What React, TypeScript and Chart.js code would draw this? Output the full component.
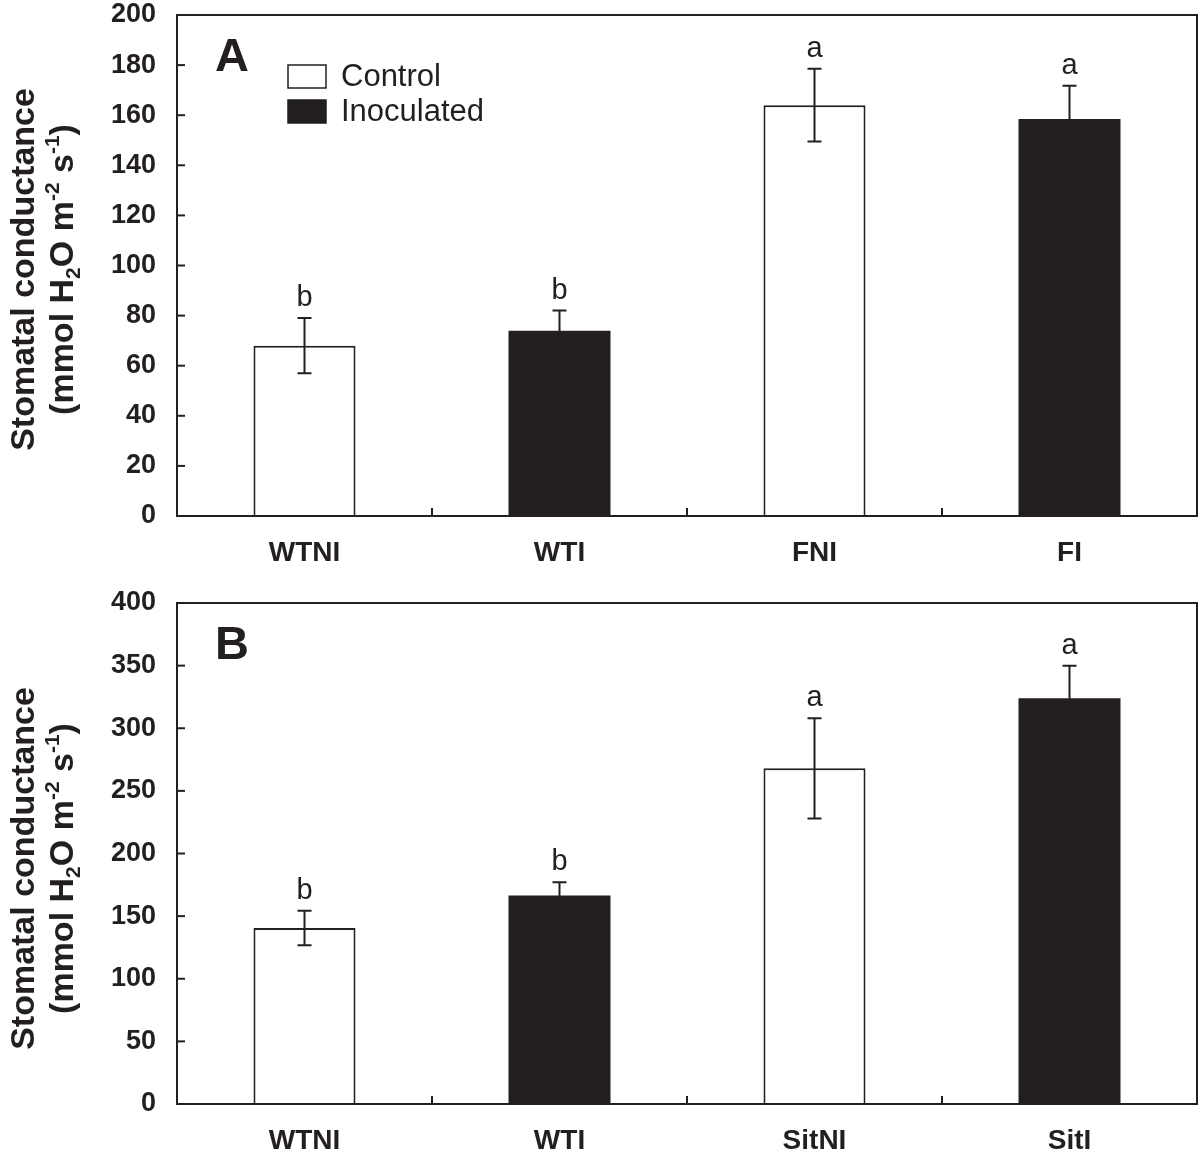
import React, { useEffect, useRef } from "react";
import { Chart, registerables } from "chart.js";

Chart.register(...registerables);

// ---- Data ----
const categoriesA = ["WTNI", "WTI", "FNI", "FI"];
const meansA = [68, 74, 164, 158.5];
const errorsA = [11, 8, 14.5, 13.3];
const lettersA = ["b", "b", "a", "a"];

const categoriesB = ["WTNI", "WTI", "SitNI", "SitI"];
const meansB = [140.5, 166.5, 268, 324];
const errorsB = [13.7, 10.5, 40, 26];
const lettersB = ["b", "b", "a", "a"];

// treatment of each bar: 0 = Control, 1 = Inoculated
const treatment = [0, 1, 0, 1];
const seriesNames = ["Control", "Inoculated"];

const yTicksA = [0, 20, 40, 60, 80, 100, 120, 140, 160, 180, 200];
const yTicksB = [0, 50, 100, 150, 200, 250, 300, 350, 400];

const INK = "#231f20";
const FONT = "'Liberation Sans', Arial, Helvetica, sans-serif";

type PanelCfg = {
  categories: string[];
  means: number[];
  errors: number[];
  letters: string[];
  yTicks: number[];
  panel: string;
  showLegend: boolean;
  height: number;
  titleCenterOffset: number;
};

function buildChart(canvas: HTMLCanvasElement, cfg: PanelCfg) {
  const datasets = seriesNames.map((name, s) => ({
    label: name,
    data: cfg.means.map((v, i) => (treatment[i] === s ? v : null)),
    backgroundColor: s === 0 ? "#ffffff" : INK,
    borderColor: INK,
    borderWidth: s === 0 ? 2 : 0,
    borderSkipped: "bottom" as const,
    categoryPercentage: 0.4,
    barPercentage: 1,
    skipNull: true,
  }));

  const overlay = {
    id: "overlay",
    afterDatasetsDraw(chart: any) {
      const ctx = chart.ctx;
      const xs = chart.scales.x;
      const ys = chart.scales.y;
      const area = chart.chartArea;
      ctx.save();
      ctx.strokeStyle = INK;
      ctx.fillStyle = INK;
      ctx.lineWidth = 2;

      // error bars + letters
      cfg.means.forEach((m, i) => {
        const x = xs.getPixelForValue(i);
        const yt = ys.getPixelForValue(m + cfg.errors[i]);
        const yb = ys.getPixelForValue(m - cfg.errors[i]);
        const cap = 7;
        ctx.beginPath();
        ctx.moveTo(x, yt);
        ctx.lineTo(x, yb);
        ctx.moveTo(x - cap, yt);
        ctx.lineTo(x + cap, yt);
        ctx.moveTo(x - cap, yb);
        ctx.lineTo(x + cap, yb);
        ctx.stroke();
        ctx.font = `29px ${FONT}`;
        ctx.textAlign = "center";
        ctx.textBaseline = "alphabetic";
        ctx.fillText(cfg.letters[i], x, yt - 12);
      });

      // frame
      ctx.strokeRect(area.left, area.top, area.right - area.left, area.bottom - area.top);

      // inward y ticks
      cfg.yTicks.forEach((t) => {
        const y = ys.getPixelForValue(t);
        ctx.beginPath();
        ctx.moveTo(area.left, y);
        ctx.lineTo(area.left + 8, y);
        ctx.stroke();
      });

      // inward x ticks between categories
      for (let i = 0; i < cfg.categories.length - 1; i++) {
        const x = (xs.getPixelForValue(i) + xs.getPixelForValue(i + 1)) / 2;
        ctx.beginPath();
        ctx.moveTo(x, area.bottom);
        ctx.lineTo(x, area.bottom - 8);
        ctx.stroke();
      }

      // panel letter
      ctx.font = `bold 47px ${FONT}`;
      ctx.textAlign = "left";
      ctx.textBaseline = "alphabetic";
      ctx.fillText(cfg.panel, area.left + 38, area.top + 56);

      // legend
      if (cfg.showLegend) {
        chart.data.datasets.forEach((ds: any, k: number) => {
          const bx = area.left + 111;
          const by = area.top + 50 + k * 35;
          ctx.fillStyle = ds.backgroundColor;
          ctx.fillRect(bx, by, 38, 23);
          ctx.strokeStyle = INK;
          ctx.lineWidth = 1.5;
          ctx.strokeRect(bx, by, 38, 23);
          ctx.fillStyle = INK;
          ctx.font = `31px ${FONT}`;
          ctx.textBaseline = "middle";
          ctx.fillText(ds.label, bx + 53, by + 12);
        });
      }

      // y-axis title with sub/superscripts
      const cy = (area.top + area.bottom) / 2 + cfg.titleCenterOffset;
      const big = 34;
      const small = 21;
      const line1 = [{ t: "Stomatal conductance", s: 0 }];
      const line2 = [
        { t: "(mmol H", s: 0 },
        { t: "2", s: 1 },
        { t: "O m", s: 0 },
        { t: "-2", s: -1 },
        { t: " s", s: 0 },
        { t: "-1", s: -1 },
        { t: ")", s: 0 },
      ];
      const drawLine = (parts: { t: string; s: number }[], baseX: number) => {
        ctx.save();
        ctx.translate(baseX, cy);
        ctx.rotate(-Math.PI / 2);
        ctx.textAlign = "left";
        ctx.textBaseline = "alphabetic";
        let total = 0;
        parts.forEach((p) => {
          ctx.font = `bold ${p.s === 0 ? big : small}px ${FONT}`;
          total += ctx.measureText(p.t).width;
        });
        let x = -total / 2;
        parts.forEach((p) => {
          ctx.font = `bold ${p.s === 0 ? big : small}px ${FONT}`;
          const dy = p.s === 1 ? 7 : p.s === -1 ? -14 : 0;
          ctx.fillStyle = INK;
          ctx.fillText(p.t, x, dy);
          x += ctx.measureText(p.t).width;
        });
        ctx.restore();
      };
      drawLine(line1, 34);
      drawLine(line2, 73);

      ctx.restore();
    },
  };

  return new Chart(canvas, {
    type: "bar",
    data: { labels: cfg.categories, datasets },
    options: {
      animation: false,
      responsive: false,
      maintainAspectRatio: false,
      layout: { padding: { left: 0, right: 3, top: 15, bottom: 0 } },
      plugins: { legend: { display: false }, tooltip: { enabled: false } },
      scales: {
        x: {
          grid: { display: false, drawTicks: false },
          border: { display: false },
          ticks: {
            color: INK,
            font: { family: FONT, size: 28, weight: "bold" },
            padding: 20,
          },
          afterFit: (s: any) => {
            s.height = cfg.height - 516;
            s.paddingLeft = 0;
            s.paddingRight = 0;
          },
        },
        y: {
          min: cfg.yTicks[0],
          max: cfg.yTicks[cfg.yTicks.length - 1],
          afterBuildTicks: (s: any) => {
            s.ticks = cfg.yTicks.map((v) => ({ value: v }));
          },
          grid: { display: false, drawTicks: false },
          border: { display: false },
          ticks: {
            color: INK,
            font: { family: FONT, size: 27, weight: "bold" },
            padding: 21,
          },
          afterFit: (s: any) => {
            s.width = 177;
            s.paddingTop = 0;
            s.paddingBottom = 0;
          },
        },
      },
    },
    plugins: [overlay],
  });
}

function Panel({ cfg }: { cfg: PanelCfg }) {
  const ref = useRef<HTMLCanvasElement>(null);
  useEffect(() => {
    if (!ref.current) return;
    const c = buildChart(ref.current, cfg);
    return () => c.destroy();
  }, []);
  return (
    <div style={{ width: 1200, height: cfg.height, position: "relative" }}>
      <canvas ref={ref} width={1200} height={cfg.height} style={{ width: 1200, height: cfg.height, display: "block" }} />
    </div>
  );
}

export default function App() {
  useEffect(() => {
    document.body.style.margin = "0";
    document.body.style.background = "#ffffff";
  }, []);
  const a: PanelCfg = {
    categories: categoriesA,
    means: meansA,
    errors: errorsA,
    letters: lettersA,
    yTicks: yTicksA,
    panel: "A",
    showLegend: true,
    height: 588,
    titleCenterOffset: 4,
  };
  const b: PanelCfg = {
    categories: categoriesB,
    means: meansB,
    errors: errorsB,
    letters: lettersB,
    yTicks: yTicksB,
    panel: "B",
    showLegend: false,
    height: 566,
    titleCenterOffset: 15,
  };
  return (
    <div style={{ position: "absolute", left: 0, top: 0, width: 1200, height: 1154, background: "#fff" }}>
      <Panel cfg={a} />
      <Panel cfg={b} />
    </div>
  );
}
